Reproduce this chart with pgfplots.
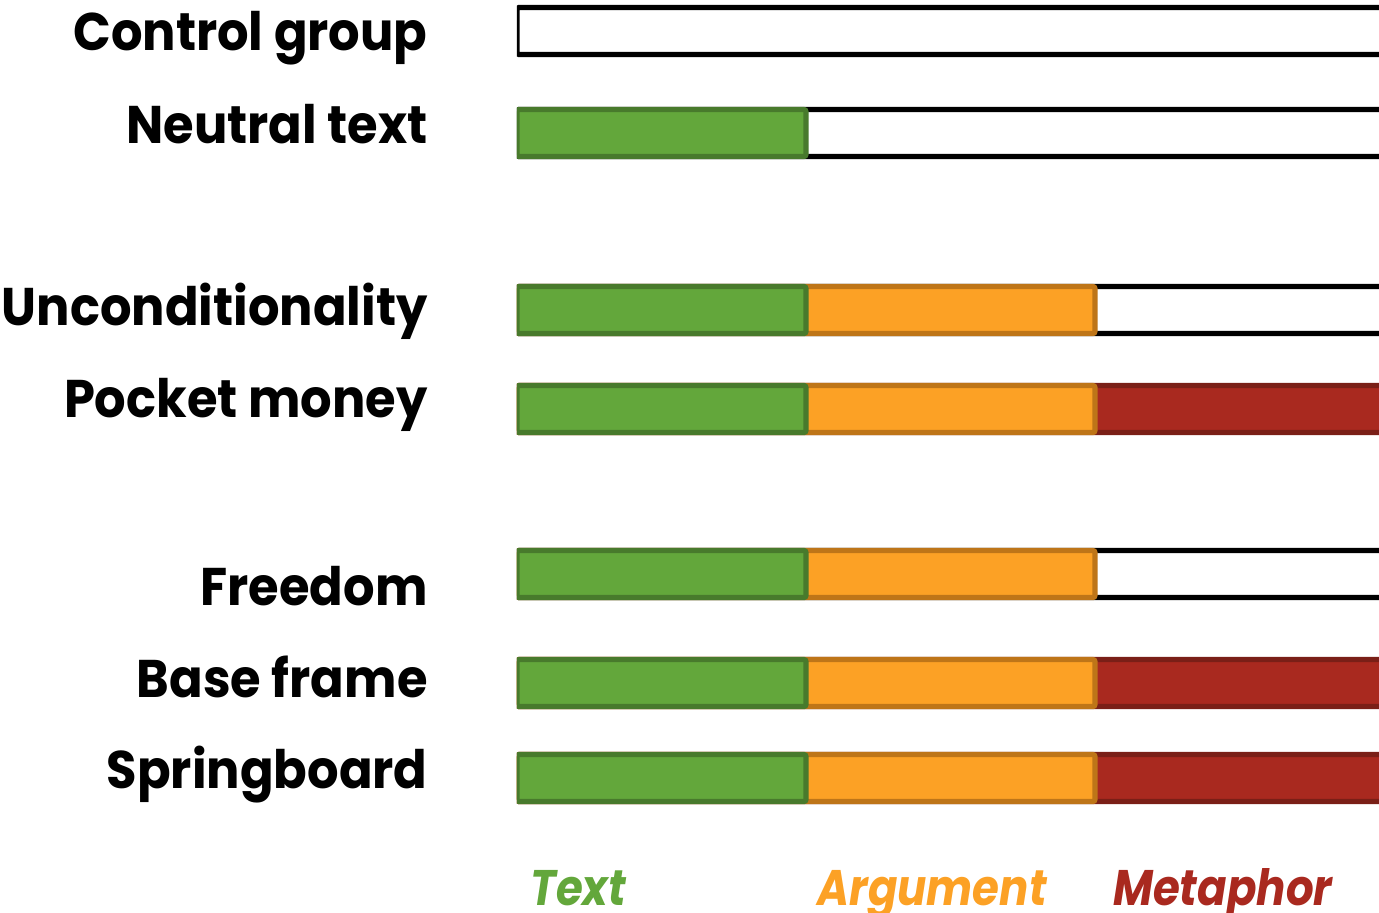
\documentclass[border=0pt]{standalone}
\usepackage{fontspec}
\setmainfont{Poppins}
\newfontfamily\labelfont[FakeStretch=0.935]{Poppins}
\newfontfamily\legfont[FakeStretch=0.87]{Poppins}
\usepackage{pgfplots}
\pgfplotsset{compat=1.18}
\definecolor{mgreen}{HTML}{63A73B}
\definecolor{dgreen}{HTML}{487A2C}
\definecolor{morange}{HTML}{FCA125}
\definecolor{dorange}{HTML}{BE7518}
\definecolor{mred}{HTML}{A9291F}
\definecolor{dred}{HTML}{7A1F17}
\begin{document}
\begin{tikzpicture}
\begin{axis}[
  width=431pt, height=456pt, scale only axis,
  xmin=0, xmax=2.983, ymin=0, ymax=912, y dir=reverse,
  hide axis, clip mode=individual,
  every axis plot/.append style={xbar, bar width=23.5pt, bar shift=0pt, line width=2.6pt, rounded corners=1pt},
]
% white remainder bars (full length)
\addplot[fill=white, draw=black] coordinates {(3.3,31) (3.3,133) (3.3,310) (3.3,574)};
% cumulative: Text + Argument + Metaphor
\addplot[fill=mred, draw=dred] coordinates {(3,409) (3,683) (3,778)};
% cumulative: Text + Argument
\addplot[fill=morange, draw=dorange] coordinates {(2,310) (2,409) (2,574) (2,683) (2,778)};
% Text
\addplot[fill=mgreen, draw=dgreen] coordinates {(1,133) (1,310) (1,409) (1,574) (1,683) (1,778)};

\begin{scope}[every node/.style={anchor=base east, font=\labelfont\fontsize{26.5}{30}\selectfont\bfseries, inner sep=0pt}]
\node at (axis cs:-0.308,50) {Control group};
\node at (axis cs:-0.308,143) {Neutral text};
\node at (axis cs:-0.308,325) {Unconditionality};
\node at (axis cs:-0.308,417) {Pocket money};
\node at (axis cs:-0.308,605) {Freedom};
\node at (axis cs:-0.308,697) {Base frame};
\node at (axis cs:-0.308,788) {Springboard};
\end{scope}
\begin{scope}[every node/.style={anchor=base west, font=\legfont\fontsize{25}{28}\selectfont\bfseries\itshape, inner sep=0pt}]
\node[text=mgreen] at (axis cs:0.045,905) {Text};
\node[text=morange] at (axis cs:1.038,905) {Argument};
\node[text=mred] at (axis cs:2.062,905) {Metaphor};
\end{scope}
\coordinate (bbA) at (axis cs:-1.789,912);
\coordinate (bbB) at (axis cs:2.983,0);
\end{axis}
\pgfresetboundingbox
\useasboundingbox (bbA) rectangle (bbB);
\end{tikzpicture}
\end{document}
